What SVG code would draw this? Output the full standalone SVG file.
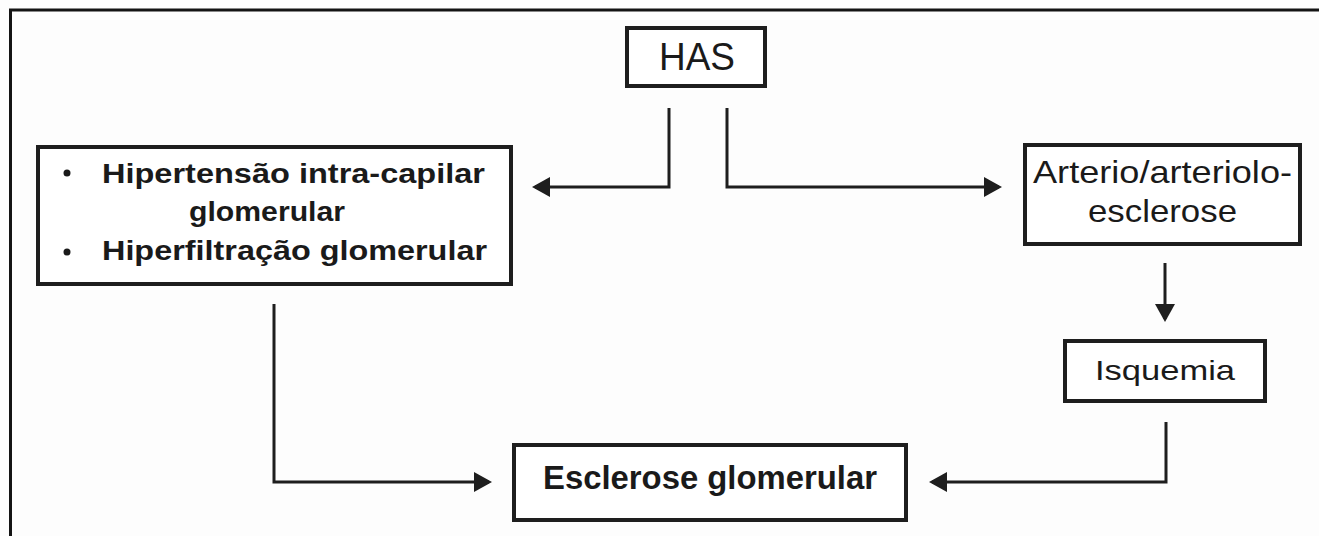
<svg xmlns="http://www.w3.org/2000/svg" width="1319" height="536" viewBox="0 0 1319 536">
  <style>
    .box { fill: #ffffff; stroke: #1e1e1e; stroke-width: 4; }
    .con { fill: none; stroke: #1e1e1e; stroke-width: 3; }
    .t { font-family: "Liberation Sans", Arial, sans-serif; fill: #1a1a1a; }
    .b { font-weight: bold; }
  </style>
  <defs>
    <marker id="arr" markerUnits="userSpaceOnUse" viewBox="0 0 18 20" markerWidth="18" markerHeight="20" refX="15" refY="10" orient="auto">
      <path d="M0,0 L18,10 L0,20 Z" fill="#1e1e1e"/>
    </marker>
  </defs>
  <rect x="0" y="0" width="1319" height="536" fill="#fdfdfd"/>
  <path d="M10.5 536 V10 H1319" fill="none" stroke="#141414" stroke-width="3"/>

  <g id="connectors">
    <path class="con" d="M669 108 V187 H535" marker-end="url(#arr)"/>
    <path class="con" d="M727 108 V187 H999" marker-end="url(#arr)"/>
    <path class="con" d="M1165 263 V319" marker-end="url(#arr)"/>
    <path class="con" d="M1166 422 V482 H932" marker-end="url(#arr)"/>
    <path class="con" d="M274 304 V482 H489" marker-end="url(#arr)"/>
  </g>

  <g id="has">
    <rect class="box" x="627" y="28" width="138" height="58"/>
    <text class="t" x="659" y="70" font-size="39" textLength="76" lengthAdjust="spacingAndGlyphs">HAS</text>
  </g>

  <g id="hipertensao">
    <rect class="box" x="38" y="147" width="473" height="137"/>
    <circle cx="67" cy="173" r="3.5" fill="#1a1a1a"/>
    <circle cx="67" cy="252" r="3.5" fill="#1a1a1a"/>
    <text class="t b" x="102" y="183" font-size="28" textLength="383" lengthAdjust="spacingAndGlyphs">Hipertensão intra-capilar</text>
    <text class="t b" x="189" y="221" font-size="28" textLength="156" lengthAdjust="spacingAndGlyphs">glomerular</text>
    <text class="t b" x="102" y="260" font-size="28" textLength="385" lengthAdjust="spacingAndGlyphs">Hiperfiltração glomerular</text>
  </g>

  <g id="arterio">
    <rect class="box" x="1025" y="145" width="275" height="99"/>
    <text class="t" x="1033" y="183" font-size="32" textLength="259" lengthAdjust="spacingAndGlyphs">Arterio/arteriolo-</text>
    <text class="t" x="1088" y="222" font-size="32" textLength="149" lengthAdjust="spacingAndGlyphs">esclerose</text>
  </g>

  <g id="isquemia">
    <rect class="box" x="1065" y="341" width="200" height="60"/>
    <text class="t" x="1095" y="380" font-size="28" textLength="140" lengthAdjust="spacingAndGlyphs">Isquemia</text>
  </g>

  <g id="esclerose">
    <rect class="box" x="514" y="445" width="392" height="75"/>
    <text class="t b" x="543" y="489" font-size="33" textLength="334" lengthAdjust="spacingAndGlyphs">Esclerose glomerular</text>
  </g>
</svg>
